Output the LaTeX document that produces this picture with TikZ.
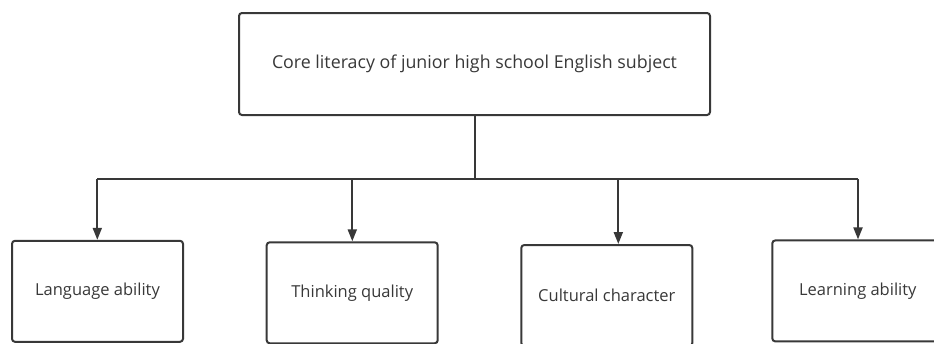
\documentclass[tikz,border=0pt]{standalone}
\usepackage{fontspec}
\setmainfont{Open Sans}
\usetikzlibrary{arrows.meta,positioning}
\definecolor{linegray}{HTML}{383838}
\definecolor{textgray}{HTML}{383838}

\begin{document}
\begin{tikzpicture}[x=1pt, y=-1pt,
    box/.style={rectangle, draw=linegray, line width=2pt, rounded corners=3pt,
                text=textgray, font=\fontsize{16.5}{20}\selectfont, align=center,
                inner sep=0pt, minimum width=171pt, minimum height=101pt},
    link/.style={draw=linegray, line width=2pt},
    arr/.style={link, -{Triangle[length=12pt,width=9pt]}}
  ]
  \useasboundingbox (0,0) rectangle (934,343);

  \node[box, minimum width=471pt, minimum height=102pt, font=\fontsize{17.8}{21}\selectfont] (core) at (474.5,64) {Core literacy of junior high school English subject};

  \node[box] (lang)  at (97.5,291.3)  {Language ability};
  \node[box] (think) at (352.2,292.8) {Thinking quality};
  \node[box] (cult)  at (606.8,295.5) {Cultural character};
  \node[box] (learn) at (857.8,290.9) {Learning ability};

  % bus line under the top box
  \coordinate (hub) at (474.5,179);
  \coordinate (b1) at (97.3,179);
  \coordinate (b2) at (352.3,179);
  \coordinate (b3) at (618.3,179);
  \coordinate (b4) at (858,179);

  \draw[link] (core.south) -- (hub);
  \draw[link] (b1) -- (b4);
  \draw[arr] (b1) -- (b1 |- lang.north);
  \draw[arr] (b2) -- (b2 |- think.north);
  \draw[arr] (b3) -- (b3 |- cult.north);
  \draw[arr] (b4) -- (b4 |- learn.north);
\end{tikzpicture}
\end{document}
